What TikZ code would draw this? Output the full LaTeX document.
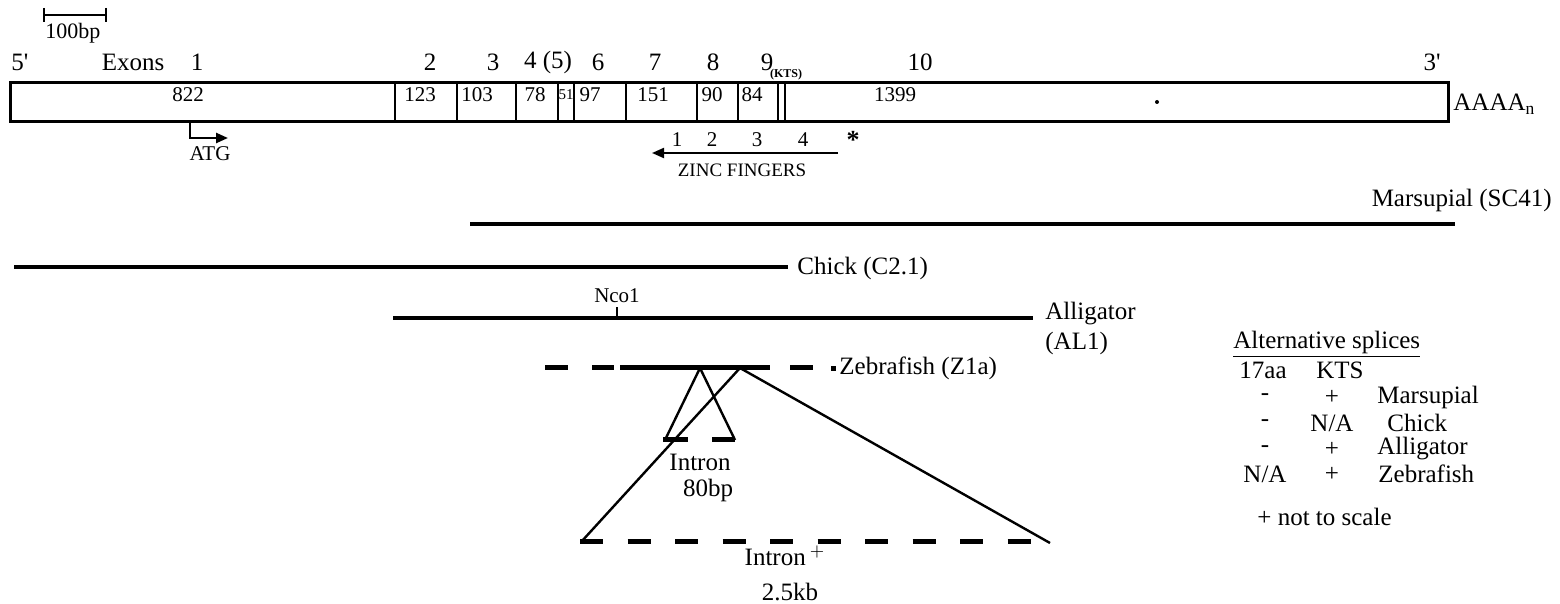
\documentclass[tikz,border=0pt]{standalone}
\usepackage{fontspec}
\setmainfont{Liberation Serif}
\usetikzlibrary{arrows.meta, positioning}

\begin{document}
\begin{tikzpicture}[
        x=0.5pt, y=-0.5pt,
        lbl/.style={inner sep=0pt, font=\fontsize{12.5}{15}\selectfont},
        num/.style={inner sep=0pt, font=\fontsize{10.5}{12}\selectfont},
        clone/.style={line width=2.2pt},
        seg/.style={line width=2.5pt},
        loopline/.style={line width=1.2pt},
        tip/.style={-{Triangle[length=6pt, width=5pt]}}
    ]
    \useasboundingbox (0,0) rectangle (1560,604);

    % Scale bar
    \draw[line width=1pt] (44,8) -- (44,22);
    \draw[line width=1pt] (106,8) -- (106,22);
    \draw[line width=1pt] (44,15) -- (106,15);
    \node[num, font=\fontsize{11}{12}\selectfont] (scale) at (73,33) {100bp};

    % Exon numbers
    \node[lbl] (five) at (20,62) {5\textquotesingle};
    \node[lbl] (exons) at (133,62) {Exons};
    \foreach \x/\n in {197/1, 430/2, 493/3, 548/4 (5), 598/6, 655/7, 713/8, 767/9, 920/10}
        \node[lbl] at (\x,62) {\n};
    \node[lbl] (three) at (1432,62) {3\textquotesingle};
    \node[inner sep=0pt, font=\bfseries\fontsize{6}{7}\selectfont] (kts) at (786,75) {(KTS)};

    % Transcript box
    \draw[line width=1.5pt] (10,83) rectangle (1448,122);
    \foreach \x in {395,457,516,558,574,626,697,738,778,785}
        \draw[line width=1.2pt] (\x,83) -- (\x,122);
    \foreach \x/\n in {188/822, 420/123, 477/103, 535/78, 590/97, 653/151, 712/90, 752/84, 895/1399}
        \node[num] at (\x,95) {\n};
    \node[inner sep=0pt, font=\fontsize{7.5}{8}\selectfont] at (566,95) {51};
    \fill (1157,102) circle (1pt);
    \node[lbl, anchor=west] (polya) at (1453,104) {AAAA\textsubscript{n}};

    % Start codon
    \coordinate (atg0) at (190,123);
    \coordinate (atg1) at (228,138);
    \draw[line width=1.2pt, tip] (atg0) |- (atg1);
    \node[num] (atg) at (210,154) {ATG};

    % Zinc fingers
    \coordinate (zf4) at (838,153);
    \coordinate (zf1) at (652,153);
    \draw[line width=1pt, tip] (zf4) -- (zf1);
    \foreach \x/\n in {677/1, 712/2, 757/3, 803/4}
        \node[num] at (\x,140) {\n};
    \node[inner sep=0pt, font=\bfseries\fontsize{13}{13}\selectfont] (star) at (853,140) {*};
    \node[num, font=\fontsize{9.5}{11}\selectfont] (zinc) at (742,170) {ZINC FINGERS};

    % Clones
    \coordinate (ms0) at (470,224);
    \coordinate (ms1) at (1455,224);
    \draw[clone] (ms0) -- (ms1);
    \node[lbl, anchor=east] (marsupial) at (1552,200) {Marsupial (SC41)};

    \coordinate (ch0) at (14,267);
    \coordinate (ch1) at (788,267);
    \draw[clone] (ch0) -- (ch1);
    \node[lbl, anchor=west] (chick) at (797,268) {Chick (C2.1)};

    \coordinate (al0) at (393,318);
    \coordinate (al1) at (1033,318);
    \coordinate (nco) at (617,318);
    \draw[line width=1.6pt] (al0) -- (al1);
    \draw[line width=1pt] (nco) -- ++(0,-11);
    \node[num] (ncol) at (617,296) {Nco1};
    \node[lbl, anchor=north west, align=left] (alligator) at (1045,302) {Alligator\\(AL1)};

    \foreach \a/\b in {545/568, 592/614, 620/770, 790/813}
        \draw[seg] (\a,368) -- (\b,368);
    \fill (831,366) rectangle (836,371);
    \node[lbl, anchor=west] (zebra) at (839,368) {Zebrafish (Z1a)};

    % Introns
    \coordinate (zA) at (700,368);
    \coordinate (zB) at (740,368);
    \coordinate (iA0) at (665,440);
    \coordinate (iA1) at (735,440);
    \coordinate (iB0) at (582,541);
    \coordinate (iB1) at (1050,543);
    \draw[loopline] (iA0) -- (zA) -- (iA1);
    \draw[loopline] (iB0) -- (zB) -- (iB1);
    \foreach \a/\b in {663/688, 712/735}
        \draw[seg] (\a,440) -- (\b,440);
    \foreach \a in {580,627.5,...,1010}
        \draw[seg] (\a,541) -- (\a+23,541);
    \node[lbl] (intA) at (700,462) {Intron};
    \node[lbl] (bpA) at (708,490) {80bp};
    \node[lbl] (intB) at (785,556) {Intron\,$^{+}$};
    \node[lbl] (kbB) at (790,592) {2.5kb};

    % Splice table
    \node[lbl, anchor=west] (alt) at (1233,344) {\underline{Alternative splices}};
    \node[lbl] (aa) at (1263,370) {17aa};
    \node[lbl] (ktsh) at (1340,370) {KTS};
    \foreach \y/\p/\q in {397/{-}/{+}, 423/{-}/{N/A}, 449/{-}/{+}, 474/{N/A}/{+}} {
        \node[lbl] at (1265,\y) {\p};
        \node[lbl] at (1332,\y) {\q};
    }
    \node[lbl, anchor=west] at (1377,397) {Marsupial};
    \node[lbl, anchor=west] at (1387,423) {Chick};
    \node[lbl, anchor=west] at (1377,449) {Alligator};
    \node[lbl, anchor=west] at (1378,474) {Zebrafish};
    \node[lbl, anchor=west] (nts) at (1257,517) {+ not to scale};

\end{tikzpicture}
\end{document}
